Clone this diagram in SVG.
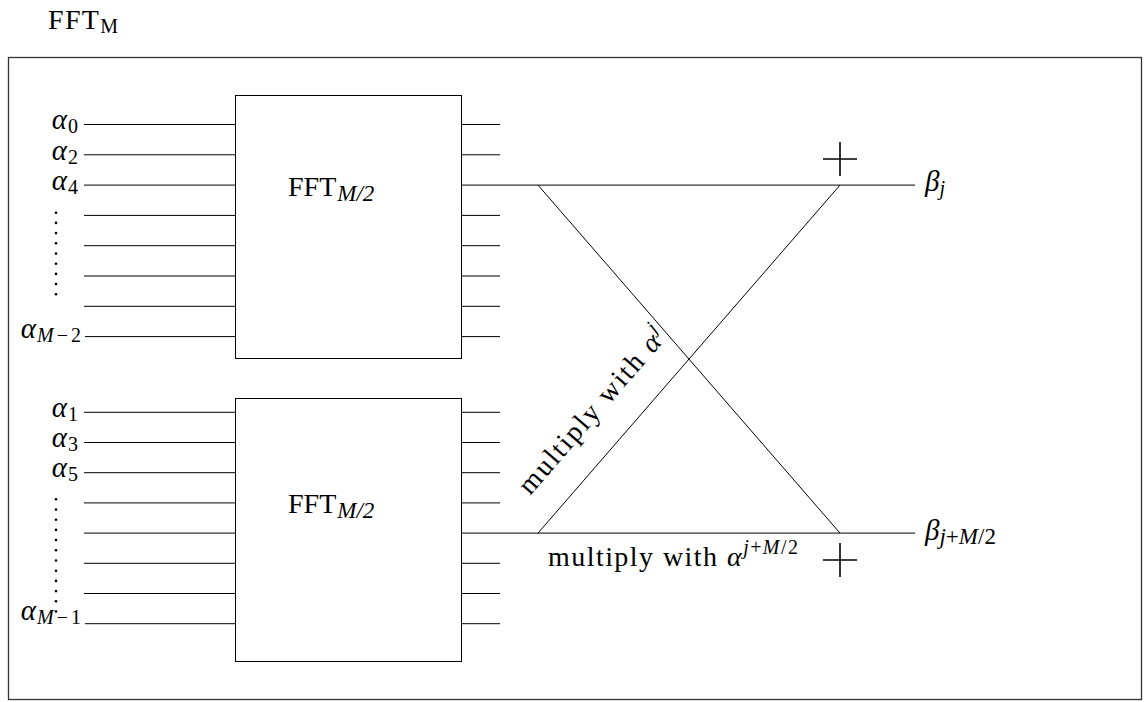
<svg xmlns="http://www.w3.org/2000/svg" width="1144" height="702" viewBox="0 0 1144 702">
  <style>
    text { font-family: "Liberation Serif", "Times New Roman", serif; fill: #000; font-size: 28px; }
    .a { font-size: 29px; }
    .sub { font-size: 20px; }
    .sub2 { font-size: 23px; }
    .it { font-style: italic; }
    .wire { stroke: #000; stroke-width: 1; fill: none; }
    .box { stroke: #000; stroke-width: 1; fill: #fff; }
    .plus { stroke: #000; stroke-width: 1.6; fill: none; }
    .dot { fill: #000; }
  </style>

  <!-- title -->
  <text x="48" y="29" textLength="70" lengthAdjust="spacing">FFT<tspan class="sub" dy="4">M</tspan></text>

  <!-- outer frame -->
  <rect x="8.5" y="57.5" width="1133" height="642" fill="none" stroke="#333" stroke-width="1.3"/>

  <!-- connectors -->
  <g id="connectors">
    <!-- inputs to upper FFT -->
    <path class="wire" d="M84 124.5H235 M84 154.8H235 M84 185.1H235 M84 215.4H235 M84 245.7H235 M84 276H235 M84 306.3H235 M85 336.6H235"/>
    <!-- outputs of upper FFT -->
    <path class="wire" d="M462 124.5H500 M462 154.8H500 M462 185.1H915 M462 215.4H500 M462 245.7H500 M462 276H500 M462 306.3H500 M462 336.6H500"/>
    <!-- inputs to lower FFT -->
    <path class="wire" d="M84 412.3H235 M84 442.5H235 M84 472.7H235 M84 502.9H235 M84 533.1H235 M84 563.3H235 M84 593.5H235 M85 623.7H235"/>
    <!-- outputs of lower FFT -->
    <path class="wire" d="M462 412.3H500 M462 442.5H500 M462 472.7H500 M462 502.9H500 M462 533.1H915 M462 563.3H500 M462 593.5H500 M462 623.7H500"/>
    <!-- butterfly -->
    <path class="wire" d="M538 185.1L840 533.1 M538 533.1L840 185.1"/>
  </g>

  <!-- upper FFT block -->
  <g id="fft-upper">
    <rect class="box" x="235.5" y="95.5" width="226" height="263"/>
    <text x="288" y="196">FFT<tspan class="sub2 it" dx="1" dy="5">M/2</tspan></text>
  </g>

  <!-- lower FFT block -->
  <g id="fft-lower">
    <rect class="box" x="235.5" y="398.5" width="226" height="263"/>
    <text x="288" y="513">FFT<tspan class="sub2 it" dx="1" dy="5">M/2</tspan></text>
  </g>

  <!-- even inputs -->
  <g id="inputs-even">
    <text class="a" x="78" y="129" text-anchor="end"><tspan class="it">α</tspan><tspan class="sub" dx="1" dy="4">0</tspan></text>
    <text class="a" x="78" y="159.5" text-anchor="end"><tspan class="it">α</tspan><tspan class="sub" dx="1" dy="4">2</tspan></text>
    <text class="a" x="78" y="189.7" text-anchor="end"><tspan class="it">α</tspan><tspan class="sub" dx="1" dy="4">4</tspan></text>
    <g class="dot">
      <circle cx="56" cy="212.7" r="1.3"/><circle cx="56" cy="222.9" r="1.3"/><circle cx="56" cy="233.1" r="1.3"/>
      <circle cx="56" cy="243.3" r="1.3"/><circle cx="56" cy="253.5" r="1.3"/><circle cx="56" cy="263.7" r="1.3"/>
      <circle cx="56" cy="273.9" r="1.3"/><circle cx="56" cy="284.1" r="1.3"/><circle cx="56" cy="294.3" r="1.3"/>
    </g>
    <text class="a" x="81" y="338" text-anchor="end"><tspan class="it">α</tspan><tspan class="sub" dx="1" dy="4"><tspan class="it">M</tspan><tspan dx="3">−</tspan><tspan dx="3">2</tspan></tspan></text>
  </g>

  <!-- odd inputs -->
  <g id="inputs-odd">
    <text class="a" x="78" y="416.7" text-anchor="end"><tspan class="it">α</tspan><tspan class="sub" dx="1" dy="4">1</tspan></text>
    <text class="a" x="78" y="446.9" text-anchor="end"><tspan class="it">α</tspan><tspan class="sub" dx="1" dy="4">3</tspan></text>
    <text class="a" x="78" y="477.1" text-anchor="end"><tspan class="it">α</tspan><tspan class="sub" dx="1" dy="4">5</tspan></text>
    <g class="dot">
      <circle cx="56" cy="499.3" r="1.3"/><circle cx="56" cy="509.5" r="1.3"/><circle cx="56" cy="519.7" r="1.3"/>
      <circle cx="56" cy="529.9" r="1.3"/><circle cx="56" cy="540.1" r="1.3"/><circle cx="56" cy="550.3" r="1.3"/>
      <circle cx="56" cy="560.5" r="1.3"/><circle cx="56" cy="570.7" r="1.3"/><circle cx="56" cy="580.9" r="1.3"/>
      <circle cx="56" cy="591.1" r="1.3"/><circle cx="56" cy="601.3" r="1.3"/><circle cx="56" cy="611.5" r="1.3"/>
    </g>
    <text class="a" x="81" y="620" text-anchor="end"><tspan class="it">α</tspan><tspan class="sub" dx="1" dy="4"><tspan class="it">M</tspan><tspan dx="3">−</tspan><tspan dx="3">1</tspan></tspan></text>
  </g>

  <!-- twiddle factor labels -->
  <g id="twiddle-labels">
    <text transform="translate(530 496) rotate(-49.05)" font-size="30" textLength="210" lengthAdjust="spacing">multiply with <tspan class="it">α</tspan><tspan class="sub it" dy="-12">j</tspan></text>
    <text x="548" y="566" textLength="250" lengthAdjust="spacing">multiply with <tspan class="it">α</tspan><tspan class="sub" dy="-12"><tspan class="it">j</tspan>+<tspan class="it">M</tspan>/2</tspan></text>
  </g>

  <!-- adders -->
  <g id="adder-top">
    <path class="plus" d="M823 159H857 M840 142V176"/>
  </g>
  <g id="adder-bottom">
    <path class="plus" d="M823 560H857 M840 543V577"/>
  </g>

  <!-- outputs -->
  <g id="outputs">
    <text class="a" x="925" y="191"><tspan class="it">β</tspan><tspan class="sub it" dy="4">j</tspan></text>
    <text class="a" x="925" y="540"><tspan class="it">β</tspan><tspan class="sub2" dy="4"><tspan class="it">j</tspan>+<tspan class="it">M</tspan>/2</tspan></text>
  </g>
</svg>
